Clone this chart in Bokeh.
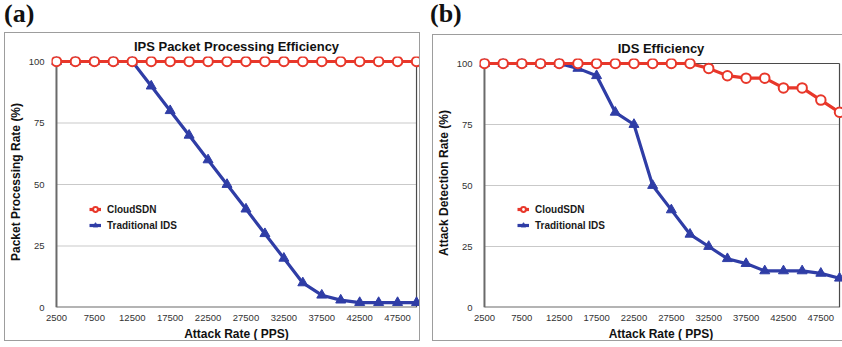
from bokeh.plotting import figure
from bokeh.layouts import row, column
from bokeh.models import Range1d, FixedTicker, Legend, LegendItem, Div, Title
from bokeh.embed import file_html
from bokeh.resources import INLINE

attack_rate = [2500, 5000, 7500, 10000, 12500, 15000, 17500, 20000, 22500, 25000,
               27500, 30000, 32500, 35000, 37500, 40000, 42500, 45000, 47500, 50000]
ips_cloudsdn = [100, 100, 100, 100, 100, 100, 100, 100, 100, 100,
                100, 100, 100, 100, 100, 100, 100, 100, 100, 100]
ips_traditional = [100, 100, 100, 100, 100, 90, 80, 70, 60, 50,
                   40, 30, 20, 10, 5, 3, 2, 2, 2, 2]
ids_cloudsdn = [100, 100, 100, 100, 100, 100, 100, 100, 100, 100,
                100, 100, 98, 95, 94, 94, 90, 90, 85, 80]
ids_traditional = [100, 100, 100, 100, 100, 98, 95, 80, 75, 50,
                   40, 30, 25, 20, 18, 15, 15, 15, 14, 12]
x_ticks = [2500, 7500, 12500, 17500, 22500, 27500, 32500, 37500, 42500, 47500]
y_ticks = [0, 25, 50, 75, 100]
grid_levels = [25, 50, 75]
series_names = ["CloudSDN", "Traditional IDS"]
x_label = "Attack Rate ( PPS)"

RED = "#e8372a"
BLUE = "#2f3da6"
FONT = "Liberation Sans"


def panel(title, ylabel, red_vals, blue_vals, width, height,
          fl, fr, ft, fb, x0px, x1px, y0px, y1px, margin):
    # frame edges (fl, fr, ft, fb) and data edge pixels, all in canvas px
    xmin, xmax = attack_rate[0], attack_rate[-1]
    ymin, ymax = y_ticks[0], y_ticks[-1]
    kx = (x1px - x0px) / (xmax - xmin)
    ky = (y0px - y1px) / (ymax - ymin)
    xr = Range1d(xmin - (x0px - fl) / kx, xmax + (fr - x1px) / kx)
    yr = Range1d(ymin - (fb - y0px) / ky, ymax + (y1px - ft) / ky)
    p = figure(width=width, height=height, x_range=xr, y_range=yr,
               output_backend="svg", toolbar_location=None,
               min_border_left=fl, min_border_right=width - fr,
               min_border_top=ft, min_border_bottom=height - fb,
               margin=margin,
               styles={"border": "1px solid #9d9d9d"})
    p.outline_line_color = None
    p.background_fill_color = "white"
    p.border_fill_color = "white"
    p.xgrid.visible = False
    p.ygrid.visible = False

    p.title.text = title
    p.title.align = "center"
    p.title.vertical_align = "top"
    p.title.text_font = FONT
    p.title.text_font_size = "13px"
    p.title.text_font_style = "bold"
    p.title.text_color = "#111111"
    p.title.standoff = 2

    for ax in (p.xaxis[0], p.yaxis[0]):
        ax.axis_line_color = None
        ax.major_tick_line_color = None
        ax.minor_tick_line_color = None
        ax.major_tick_out = 0
        ax.major_tick_in = 0
        ax.minor_tick_out = 0
        ax.minor_tick_in = 0
        ax.major_label_text_font = FONT
        ax.major_label_text_font_size = "9.5px"
        ax.major_label_text_color = "#333333"
        ax.axis_label_text_font = FONT
        ax.axis_label_text_font_size = "12px"
        ax.axis_label_text_font_style = "bold"
        ax.axis_label_text_color = "#111111"
    p.xaxis.ticker = FixedTicker(ticks=x_ticks)
    p.yaxis.ticker = FixedTicker(ticks=y_ticks)
    p.xaxis.major_label_standoff = 7
    p.yaxis.major_label_standoff = 7
    p.yaxis.axis_label = ylabel
    p.yaxis.axis_label_standoff = 3
    p.add_layout(Title(text=x_label, align="center", vertical_align="bottom",
                       standoff=2, text_font=FONT, text_font_size="12px",
                       text_font_style="bold", text_color="#111111"), "below")

    # grid lines
    p.segment(x0=[xmin] * len(grid_levels), x1=[xmax] * len(grid_levels),
              y0=grid_levels, y1=grid_levels, line_color="#c9c9c9", line_width=1)
    # frame border
    p.segment(x0=[xmin, xmin], x1=[xmin, xmax], y0=[ymin, ymin], y1=[ymax, ymin],
              line_color="#6a6a6a", line_width=2)
    p.segment(x0=[xmax, xmin], x1=[xmax, xmax], y0=[ymin, ymax], y1=[ymax, ymax],
              line_color="#4a4a4a", line_width=1.2)

    bl = p.line(attack_rate, blue_vals, line_color=BLUE, line_width=3.2)
    bs = p.scatter(attack_rate, blue_vals, marker="triangle", size=10,
                   fill_color=BLUE, line_color=BLUE)
    rl = p.line(attack_rate, red_vals, line_color=RED, line_width=3.2)
    rs = p.scatter(attack_rate, red_vals, marker="circle", size=9.5,
                   fill_color="white", line_color=RED, line_width=2)

    legend = Legend(items=[LegendItem(label=series_names[0], renderers=[rl, rs]),
                           LegendItem(label=series_names[1], renderers=[bl, bs])],
                    location=(38, 76 - (fb - y0px)), padding=0, margin=0, spacing=4,
                    glyph_width=12, glyph_height=12, label_height=12,
                    label_standoff=6, background_fill_alpha=0,
                    border_line_color=None,
                    label_text_font=FONT, label_text_font_size="10px",
                    label_text_font_style="bold", label_text_color="#1a1a1a")
    p.add_layout(legend, "center")
    return p


def tag_div(text, width, height):
    return Div(text=text, width=width, height=height, margin=0,
               styles={"font-family": "Liberation Serif", "font-size": "26px",
                       "font-weight": "bold", "color": "#111111",
                       "line-height": "26px", "padding-left": "4px",
                       "padding-top": "1px"})


# panel (a): border box x 4..422, y 32..343 ; canvas starts at (5, 33)
pa = panel("IPS Packet Processing Efficiency", "Packet Processing Rate (%)",
           ips_cloudsdn, ips_traditional, 416, 309,
           44, 416, 23, 274, 49, 411, 274, 28, (0, 0, 0, 4))
# panel (b): border box x 432..(off page), y 34..343 ; canvas starts at (433, 35)
pb = panel("IDS Efficiency", "Attack Detection Rate (%)",
           ids_cloudsdn, ids_traditional, 411, 307,
           44, 409, 23, 272, 49, 406, 272, 28, (0, 0, 0, 6))

col_a = column(tag_div("(a)", 426, 32), pa, spacing=0)
col_b = column(tag_div("(b)", 416, 34), pb, spacing=0)
layout = row(col_a, col_b, spacing=0)
open("out.html", "w").write(file_html(layout, INLINE))
